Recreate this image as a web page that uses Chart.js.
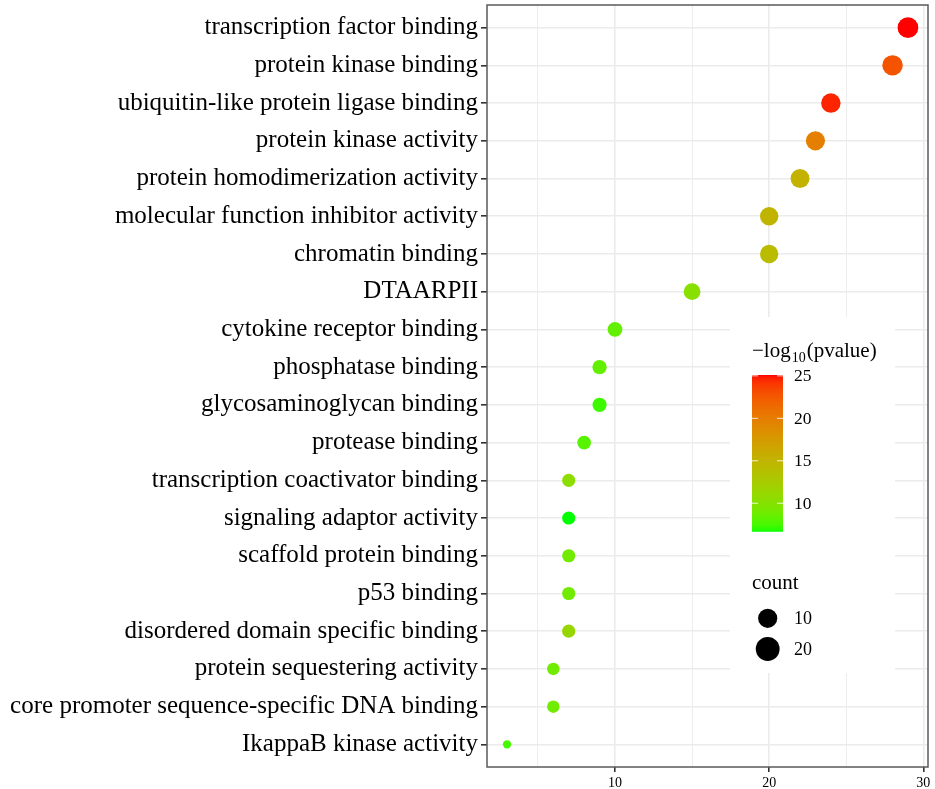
<!DOCTYPE html>
<html>
<head>
<meta charset="utf-8">
<script src="https://cdn.jsdelivr.net/npm/chart.js@4/dist/chart.umd.min.js"></script>
<style>
html,body{margin:0;padding:0;background:#fff;}
#wrap{width:935px;height:789px;position:relative;}
</style>
</head>
<body>
<div id="wrap"><canvas id="c" width="935" height="789"></canvas></div>
<script>
const categories = [
  'transcription factor binding',
  'protein kinase binding',
  'ubiquitin-like protein ligase binding',
  'protein kinase activity',
  'protein homodimerization activity',
  'molecular function inhibitor activity',
  'chromatin binding',
  'DTAARPII',
  'cytokine receptor binding',
  'phosphatase binding',
  'glycosaminoglycan binding',
  'protease binding',
  'transcription coactivator binding',
  'signaling adaptor activity',
  'scaffold protein binding',
  'p53 binding',
  'disordered domain specific binding',
  'protein sequestering activity',
  'core promoter sequence-specific DNA binding',
  'IkappaB kinase activity'
];
const counts = [29, 28, 24, 23, 22, 20, 20, 15, 10, 9, 9, 8, 7, 7, 7, 7, 7, 6, 6, 3];
const negLogP = [25.1, 22.8, 24.6, 19.8, 15.2, 15.0, 14.2, 10.2, 8.4, 8.4, 7.3, 8.0, 10.5, 6.65, 9.0, 9.0, 11.3, 9.0, 9.0, 7.5];
const xTicks = [5, 10, 15, 20, 25, 30];
const xLabelTicks = [10, 20, 30];
const colorTicks = [10, 15, 20, 25];
const sizeTicks = [10, 20];

const SERIF = '"Liberation Serif", "Times New Roman", serif';

// ---- Lab colour interpolation (green -> red), like ggplot's gradient ----
function srgbToLin(c){c/=255;return c<=0.04045?c/12.92:Math.pow((c+0.055)/1.055,2.4);}
function linToSrgb(c){c=c<=0.0031308?12.92*c:1.055*Math.pow(c,1/2.4)-0.055;return Math.max(0,Math.min(255,Math.round(c*255)));}
const WX=0.95047,WY=1,WZ=1.08883;
function f(t){return t>0.008856?Math.cbrt(t):7.787*t+16/116;}
function finv(t){return t>0.206893?t*t*t:(t-16/116)/7.787;}
function rgbToLab(r,g,b){
  const R=srgbToLin(r),G=srgbToLin(g),B=srgbToLin(b);
  const X=R*0.4124+G*0.3576+B*0.1805,Y=R*0.2126+G*0.7152+B*0.0722,Z=R*0.0193+G*0.1192+B*0.9505;
  const fx=f(X/WX),fy=f(Y/WY),fz=f(Z/WZ);
  return [116*fy-16,500*(fx-fy),200*(fy-fz)];
}
function labToRgb(L,a,b){
  const fy=(L+16)/116,fx=fy+a/500,fz=fy-b/200;
  const X=WX*finv(fx),Y=WY*finv(fy),Z=WZ*finv(fz);
  const R=X*3.2406+Y*-1.5372+Z*-0.4986,G=X*-0.9689+Y*1.8758+Z*0.0415,B=X*0.0557+Y*-0.2040+Z*1.0570;
  return [linToSrgb(R),linToSrgb(G),linToSrgb(B)];
}
const labLow=rgbToLab(0,255,0), labHigh=rgbToLab(255,0,0);
const cMin=Math.min(...negLogP), cMax=Math.max(...negLogP);
function colorFor(v){
  const t=Math.max(0,Math.min(1,(v-cMin)/(cMax-cMin)));
  const rgb=labToRgb(labLow[0]+(labHigh[0]-labLow[0])*t,labLow[1]+(labHigh[1]-labLow[1])*t,labLow[2]+(labHigh[2]-labLow[2])*t);
  return 'rgb('+rgb.join(',')+')';
}
// ---- size scale (area) ----
const nMin=Math.min(...counts), nMax=Math.max(...counts);
function radiusFor(n){
  const size=1+5*Math.sqrt(Math.max(0,(n-nMin)/(nMax-nMin)));
  return (5.82+2.48*size)/2;
}

const points = counts.map((n,i)=>({x:n,y:i}));

const legendPlugin = {
  id:'ggdecor',
  beforeDatasetsDraw(chart){
    const ctx=chart.ctx;
    ctx.save();
    ctx.fillStyle='#ffffff';
    ctx.fillRect(730,317,165,356);
    ctx.restore();
  },
  afterDatasetsDraw(chart){
    const ctx=chart.ctx, a=chart.chartArea;
    ctx.save();
    // panel border
    ctx.strokeStyle='#5a5a5a';
    ctx.lineWidth=1.5;
    ctx.strokeRect(a.left,a.top,a.right-a.left,a.bottom-a.top);

    // colour legend title
    ctx.fillStyle='#000';
    ctx.textBaseline='alphabetic';
    ctx.textAlign='left';
    let x=752, yb=357;
    ctx.font='21px '+SERIF;
    ctx.fillText('\u2212log',x,yb); x+=ctx.measureText('\u2212log').width+1;
    ctx.font='14px '+SERIF;
    ctx.fillText('10',x,yb+5); x+=ctx.measureText('10').width+1;
    ctx.font='21px '+SERIF;
    ctx.fillText('(pvalue)',x,yb);

    // colour bar
    const bx=752,bw=31,bTop=375,bBot=531.7;
    const yOf=v=>bTop+(cMax-v)/(cMax-cMin)*(bBot-bTop);
    for(let yy=bTop; yy<bBot; yy+=1){
      const v=cMax-(yy+0.5-bTop)/(bBot-bTop)*(cMax-cMin);
      ctx.fillStyle=colorFor(v);
      ctx.fillRect(bx,yy,bw,Math.min(1.2,bBot-yy));
    }
    ctx.strokeStyle='rgba(255,255,255,0.85)';
    ctx.lineWidth=1;
    ctx.font='17.5px '+SERIF;
    ctx.fillStyle='#000';
    ctx.textBaseline='middle';
    colorTicks.forEach(v=>{
      const y=yOf(v);
      ctx.beginPath();
      ctx.moveTo(bx,y);ctx.lineTo(bx+6,y);
      ctx.moveTo(bx+bw-6,y);ctx.lineTo(bx+bw,y);
      ctx.stroke();
      ctx.fillText(String(v),794,y+1);
    });

    // size legend
    ctx.font='21px '+SERIF;
    ctx.textBaseline='alphabetic';
    ctx.fillText('count',752,589);
    const rows=[618.3,649];
    sizeTicks.forEach((v,i)=>{
      ctx.fillStyle='#000';
      ctx.beginPath();
      ctx.arc(767.7,rows[i],radiusFor(v)*1.3,0,Math.PI*2);
      ctx.fill();
      ctx.font='18px '+SERIF;
      ctx.textBaseline='middle';
      ctx.fillText(String(v),794,rows[i]+1);
    });
    ctx.restore();
  }
};

new Chart(document.getElementById('c'),{
  type:'scatter',
  data:{datasets:[{
    data:points,
    pointRadius:points.map(p=>radiusFor(p.x)),
    pointHoverRadius:points.map(p=>radiusFor(p.x)),
    backgroundColor:negLogP.map(colorFor),
    borderColor:negLogP.map(colorFor),
    borderWidth:0
  }]},
  options:{
    responsive:false,
    animation:false,
    devicePixelRatio:1,
    layout:{autoPadding:false,padding:{top:5,right:7,left:0,bottom:0}},
    plugins:{legend:{display:false},tooltip:{enabled:false}},
    scales:{
      x:{
        type:'linear',min:1.7,max:30.3,
        afterBuildTicks(s){s.ticks=xTicks.map(v=>({value:v}));},
        afterFit(s){s.height=22;s.paddingLeft=0;s.paddingRight=0;},
        border:{display:false},
        grid:{
          color:'#ebebeb',
          lineWidth:c=>(c.tick&&xLabelTicks.includes(c.tick.value))?1.6:0.9,
          tickLength:5,
          tickColor:c=>(c.tick&&xLabelTicks.includes(c.tick.value))?'#333':'rgba(0,0,0,0)',
          drawTicks:true
        },
        ticks:{
          padding:3,color:'#000',
          font:{family:SERIF,size:14},
          maxRotation:0,autoSkip:false,
          callback:v=>xLabelTicks.includes(v)?String(v):''
        }
      },
      y:{
        type:'linear',min:-0.6,max:categories.length-1+0.6,reverse:true,
        afterBuildTicks(s){s.ticks=categories.map((_,i)=>({value:i}));},
        afterFit(s){s.width=487;s.paddingTop=0;s.paddingBottom=0;},
        border:{display:false},
        grid:{color:'#ebebeb',lineWidth:1.6,tickLength:6,tickColor:'#333'},
        ticks:{
          padding:3,color:'#000',
          font:{family:SERIF,size:25},
          autoSkip:false,
          callback:v=>categories[v]
        }
      }
    }
  },
  plugins:[legendPlugin]
});
</script>
</body>
</html>
